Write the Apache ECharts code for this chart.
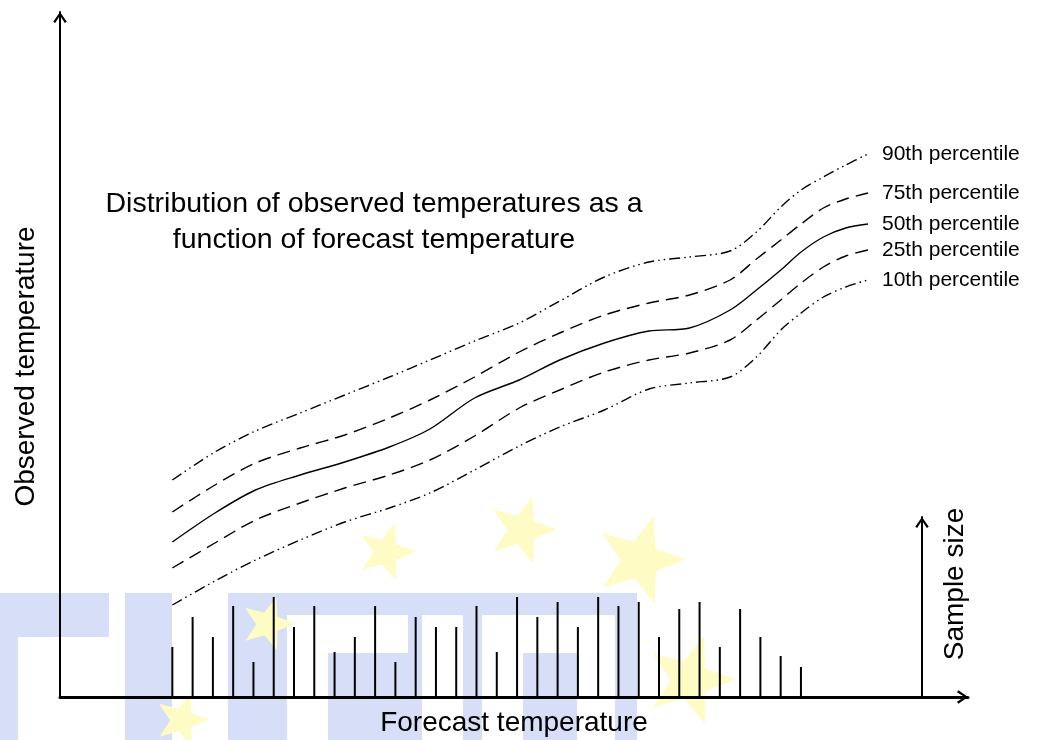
<!DOCTYPE html>
<html>
<head>
<meta charset="utf-8">
<script src="https://cdn.jsdelivr.net/npm/echarts@6/dist/echarts.min.js"></script>
<style>html,body{margin:0;padding:0;background:#fff}#c{width:1037px;height:740px}</style>
</head>
<body>
<div id="c"></div>
<script>
// ---- data ----
var forecastX = [1, 3.1, 5.1, 7.3, 9.5, 11.7, 13.7, 15.9, 18.1, 20.1, 22.3, 24.5, 26.5, 28.5, 29.8, 31, 32, 33.1, 34.2, 35.3];
var p90 = [21.7, 24.5, 26.6, 28.4, 30.2, 32.0, 33.7, 35.6, 37.4, 39.6, 42.0, 43.5, 44.0, 44.6, 46.5, 49.0, 50.7, 52.0, 53.2, 54.3];
var p75 = [18.5, 21.2, 23.4, 24.9, 26.2, 27.9, 29.7, 32.0, 34.5, 36.4, 38.2, 39.4, 40.2, 41.7, 43.8, 45.7, 47.3, 48.9, 49.8, 50.4];
var p50 = [15.5, 18.4, 20.7, 22.2, 23.5, 25.0, 26.8, 29.9, 31.7, 33.7, 35.4, 36.6, 36.9, 38.7, 40.7, 42.7, 44.5, 46.0, 46.9, 47.3];
var p25 = [12.9, 15.4, 17.7, 19.4, 20.9, 22.2, 23.7, 26.1, 28.9, 30.7, 32.5, 33.7, 34.4, 35.7, 37.7, 39.7, 41.4, 43.0, 44.1, 44.7];
var p10 = [9.2, 11.6, 13.7, 15.7, 17.5, 18.9, 20.4, 22.7, 25.1, 27.0, 28.7, 30.8, 31.4, 32.0, 34.0, 36.7, 38.4, 40.0, 41.0, 41.7];
var binX = [1,2,3,4,5,6,7,8,9,10,11,12,13,14,15,16,17,18,19,20,21,22,23,24,25,26,27,28,29,30,31,32];
var sampleSize = [50, 80, 60, 91, 35, 100, 70, 91, 45, 60, 91, 35, 80, 70, 70, 91, 45, 100, 80, 95, 70, 100, 91, 95, 60, 88, 95, 50, 88, 60, 41, 30];
var seriesNames = ['90th percentile', '75th percentile', '50th percentile', '25th percentile', '10th percentile'];
var titleText = 'Distribution of observed temperatures as a\nfunction of forecast temperature';

// ---- helpers ----
function pairs(xs, ys) { return xs.map(function (x, i) { return [x, ys[i]]; }); }
function starPts(cx, cy, R, rot) {
  var pts = [], r = R * 0.42;
  for (var i = 0; i < 10; i++) {
    var a = rot + Math.PI * i / 5 - Math.PI / 2;
    var rr = i % 2 ? r : R;
    pts.push([cx + rr * Math.cos(a), cy + rr * Math.sin(a)]);
  }
  return pts;
}
var FONT = 'Liberation Sans, Arial, Helvetica, sans-serif';
var BLUE = '#d6dff7', YEL = '#fffbc4';
var chevron = 'path://M7,0 L14,10 L12,11.4 L7,3.6 L2,11.4 L0,10 Z';

var blueRects = [
  [0, 593, 109, 44], [0, 637, 18, 103],
  [125, 593, 47, 147],
  [228, 593, 59, 147], [287, 593, 350, 22],
  [408, 615, 14, 38], [328, 653, 94, 87],
  [463, 593, 19, 147],
  [523, 653, 54, 87], [615, 615, 22, 125]
];
var stars = [[386, 552, 30, 0.3], [522, 530, 35, 0.3], [640, 560, 46, 0.3], [268, 624, 28, 0.3], [690, 680, 46, 0.3], [182, 720, 28, 0.3]];
var graphics = [];
blueRects.forEach(function (r) {
  graphics.push({ type: 'rect', z: -10, silent: true, shape: { x: r[0], y: r[1], width: r[2], height: r[3] }, style: { fill: BLUE } });
});
stars.forEach(function (s) {
  graphics.push({ type: 'polygon', z: -9, silent: true, shape: { points: starPts(s[0], s[1], s[2], s[3]) }, style: { fill: YEL } });
});

function lineSeries(name, data, dash) {
  return {
    type: 'line', name: name, xAxisIndex: 0, yAxisIndex: 0,
    data: pairs(forecastX, data), smooth: 0.3, showSymbol: false, symbol: 'none',
    lineStyle: { color: '#000', width: 1.4, type: dash },
    endLabel: { show: true, formatter: name, distance: 14, color: '#000', fontSize: 21, fontFamily: FONT },
    emphasis: { disabled: true }, animation: false, z: 5
  };
}
var dashDotDot = [11, 4, 1.5, 4, 1.5, 4];
var dashed = [13, 7];
var axisArrow = function (w) {
  return { show: true, onZero: false, symbol: ['none', chevron], symbolSize: [14, 11], symbolOffset: [0, -5.5], lineStyle: { color: '#000', width: w } };
};

var option = {
  animation: false,
  backgroundColor: '#fff',
  graphic: graphics,
  title: {
    text: titleText, left: 369, top: 181, textAlign: 'center',
    textStyle: { fontSize: 28.5, fontWeight: 'normal', color: '#000', fontFamily: FONT, lineHeight: 36 }
  },
  grid: [
    { left: 60, top: 12, width: 908, height: 685, containLabel: false, outerBoundsMode: 'none' },
    { left: 60, top: 517, width: 862, height: 180, containLabel: false, outerBoundsMode: 'none' }
  ],
  xAxis: [
    {
      type: 'value', gridIndex: 0, min: -4.54, max: 40.23,
      name: 'Forecast temperature', nameLocation: 'middle', nameGap: 12,
      nameTextStyle: { fontSize: 28, color: '#000', fontFamily: FONT },
      axisLine: axisArrow(3),
      axisTick: { show: false }, axisLabel: { show: false }, splitLine: { show: false }
    },
    { type: 'value', gridIndex: 1, min: -4.54, max: 37.97, show: false }
  ],
  yAxis: [
    {
      type: 'value', gridIndex: 0, min: 0, max: 68.5,
      name: 'Observed temperature', nameLocation: 'middle', nameGap: 20, nameRotate: 90,
      nameTextStyle: { fontSize: 28, color: '#000', fontFamily: FONT, padding: [0, 24, 0, 0] },
      axisLine: axisArrow(2),
      axisTick: { show: false }, axisLabel: { show: false }, splitLine: { show: false }
    },
    {
      type: 'value', gridIndex: 1, min: 0, max: 180, position: 'right',
      name: 'Sample size', nameLocation: 'middle', nameGap: 19, nameRotate: 90,
      nameTextStyle: { fontSize: 28, color: '#000', fontFamily: FONT, padding: [0, 0, 0, 46] },
      axisLine: axisArrow(2),
      axisTick: { show: false }, axisLabel: { show: false }, splitLine: { show: false }
    }
  ],
  series: [
    lineSeries(seriesNames[0], p90, dashDotDot),
    lineSeries(seriesNames[1], p75, dashed),
    lineSeries(seriesNames[2], p50, 'solid'),
    lineSeries(seriesNames[3], p25, dashed),
    lineSeries(seriesNames[4], p10, dashDotDot),
    {
      type: 'bar', name: 'Sample size', xAxisIndex: 1, yAxisIndex: 1,
      data: pairs(binX, sampleSize), barWidth: 2,
      itemStyle: { color: '#000' }, emphasis: { disabled: true }, z: 3
    }
  ]
};
var chart = echarts.init(document.getElementById('c'), null, { renderer: 'canvas' });
chart.setOption(option);
</script>
</body>
</html>
